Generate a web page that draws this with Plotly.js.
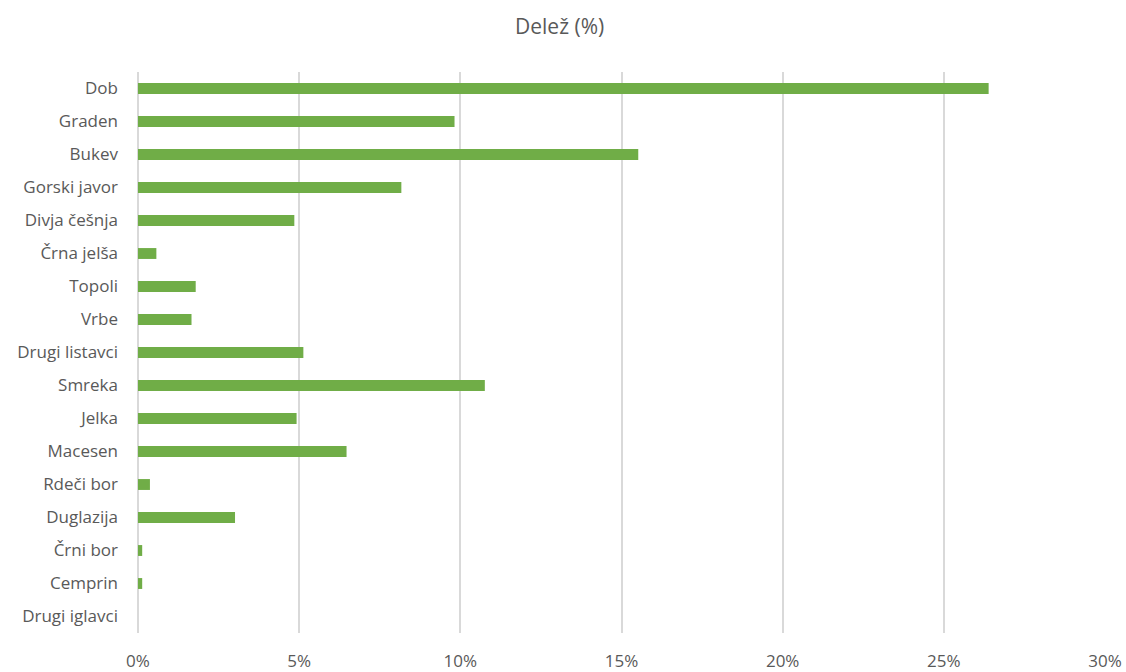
<!DOCTYPE html>
<html>
<head>
<meta charset="utf-8">
<script src="https://cdn.plot.ly/plotly-3.0.1.min.js"></script>
<style>
  html, body { margin: 0; padding: 0; background: #ffffff; }
  #chart { width: 1126px; height: 672px; }
</style>
</head>
<body>
<div id="chart"></div>
<script>
// Tree species and their share (%)
const species = [
  "Dob", "Graden", "Bukev", "Gorski javor", "Divja češnja", "Črna jelša",
  "Topoli", "Vrbe", "Drugi listavci", "Smreka", "Jelka", "Macesen",
  "Rdeči bor", "Duglazija", "Črni bor", "Cemprin", "Drugi iglavci"
];
const share = [
  26.39, 9.82, 15.52, 8.17, 4.85, 0.57,
  1.79, 1.66, 5.13, 10.76, 4.92, 6.47,
  0.37, 3.01, 0.13, 0.13, 0
];
const xTicks = [0, 5, 10, 15, 20, 25, 30];

const textColor = "#595959";
const gridColor = "#d9d9d9";
const fontFamily = "'Open Sans', 'Noto Sans', sans-serif";

const trace = {
  type: "bar",
  orientation: "h",
  x: share,
  y: species,
  marker: { color: "#70ad47" },
  hoverinfo: "x+y"
};

const layout = {
  width: 1126,
  height: 672,
  margin: { l: 138, r: 21, t: 72, b: 39 },
  paper_bgcolor: "#ffffff",
  plot_bgcolor: "#ffffff",
  bargap: 0.67,
  showlegend: false,
  title: {
    text: "Delež (%)",
    font: { family: fontFamily, size: 21, color: textColor },
    x: 0.497,
    xanchor: "center",
    y: 0.96,
    yanchor: "middle"
  },
  xaxis: {
    range: [0, 30],
    tickvals: xTicks,
    ticktext: xTicks.map(v => v + "%"),
    showgrid: true,
    gridcolor: gridColor,
    gridwidth: 2,
    zeroline: true,
    zerolinecolor: gridColor,
    zerolinewidth: 2,
    showline: false,
    ticks: "",
    ticklabelstandoff: 16,
    tickfont: { family: fontFamily, size: 17, color: textColor },
    fixedrange: true
  },
  yaxis: {
    type: "category",
    autorange: "reversed",
    showgrid: false,
    zeroline: false,
    showline: false,
    ticks: "",
    ticklabelstandoff: 19,
    tickfont: { family: fontFamily, size: 17, color: textColor },
    fixedrange: true
  }
};

Plotly.newPlot("chart", [trace], layout, { displayModeBar: false, staticPlot: true });
</script>
</body>
</html>
